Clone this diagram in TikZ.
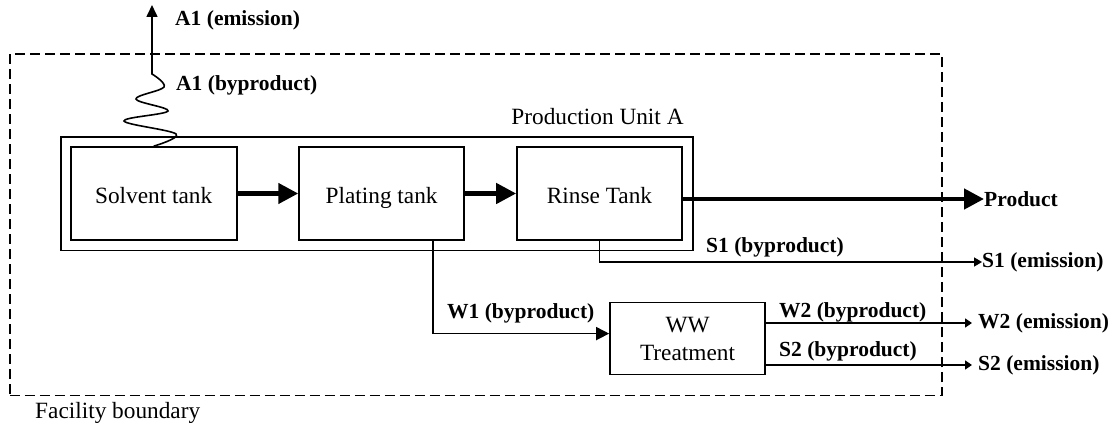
\documentclass[tikz,border=0pt]{standalone}
\usepackage{fontspec}
\setmainfont{Liberation Serif}
\usetikzlibrary{arrows.meta}
\begin{document}
\begin{tikzpicture}[x=1pt,y=-1pt,
  reg/.style={font=\fontsize{23.3}{28}\selectfont},
  tank/.style={draw,line width=1.7pt,inner sep=0,minimum height=93pt,reg,align=center},
  onetext/.style={text height=20pt,text depth=0pt},
  lbl/.style={anchor=west,inner sep=0,font=\fontsize{21.5}{24}\selectfont\bfseries},
  flow/.style={line width=4.5pt,-{Triangle[length=20pt,width=20pt]}},
  thinline/.style={line width=1.6pt},
  fence/.style={draw,line width=1.8pt,dash pattern=on 10pt off 5pt,inner sep=0}]
\useasboundingbox (0,0) rectangle (1118,435);
% facility boundary and production unit
\node[fence,minimum width=931.7pt,minimum height=341.5pt] (fac) at (475.8,224.8) {};
\node[draw,line width=1.7pt,inner sep=0,minimum width=632.3pt,minimum height=113.8pt] (unit) at (376.8,193.6) {};
\node[reg,inner sep=0] (unitlbl) at (597.5,117) {Production Unit A};
\node[reg,anchor=west,inner sep=0] (faclbl) at (35,413) {Facility boundary};
% tanks
\node[tank,onetext,minimum width=166pt] (solv) at (153.7,193.5) {Solvent tank};
\node[tank,onetext,minimum width=165pt] (plat) at (381.6,193.5) {Plating tank};
\node[tank,onetext,minimum width=165pt] (rinse) at (599.5,193.5) {Rinse Tank};
\node[tank,minimum width=155pt,minimum height=72pt] (ww) at (687.5,338.6) {\raisebox{-2pt}{WW}\\\raisebox{-2pt}{Treatment}};
% labels
\node[lbl] (a1e) at (175,20) {A1 (emission)};
\node[lbl] (a1b) at (176,85) {A1 (byproduct)};
\node[lbl] (prod) at (984,199) {Product};
\node[lbl] (s1b) at (706,247) {S1 (byproduct)};
\node[lbl] (s1e) at (982,262) {S1 (emission)};
\node[lbl] (w1b) at (447,313) {W1 (byproduct)};
\node[lbl] (w2b) at (779,312) {W2 (byproduct)};
\node[lbl] (s2b) at (779,351) {S2 (byproduct)};
\node[lbl] (w2e) at (978,323) {W2 (emission)};
\node[lbl] (s2e) at (978,365) {S2 (emission)};
\coordinate (a1top) at (152,5);
% main flow
\draw[flow] (solv.east) -- (plat.west);
\draw[flow] (plat.east) -- (rinse.west);
\draw[flow] (rinse.east |- prod.west) -- (prod.west);
% byproduct streams
\draw[thinline,-{Triangle[length=8pt,width=9pt]}] (rinse.south) |- (s1e.west);
\draw[thinline,-{Triangle[length=13pt,width=13pt]}] ([xshift=51.4pt]plat.south) |- ([yshift=5pt]ww.west);
\draw[thinline,-{Triangle[length=7pt,width=9pt]}] (ww.east |- w2e.west) -- ([xshift=-6pt]w2e.west);
\draw[thinline,-{Triangle[length=7pt,width=9pt]}] (ww.east |- s2e.west) -- ([xshift=-6pt]s2e.west);
% air emission
\draw[thinline,-{Triangle[length=12pt,width=11pt]}] plot[smooth,tension=0.6] coordinates {(solv.north) (176,134) (124,121) (168,111) (136,99) (164,87) (152,74)} -- (a1top);
\end{tikzpicture}
\end{document}
